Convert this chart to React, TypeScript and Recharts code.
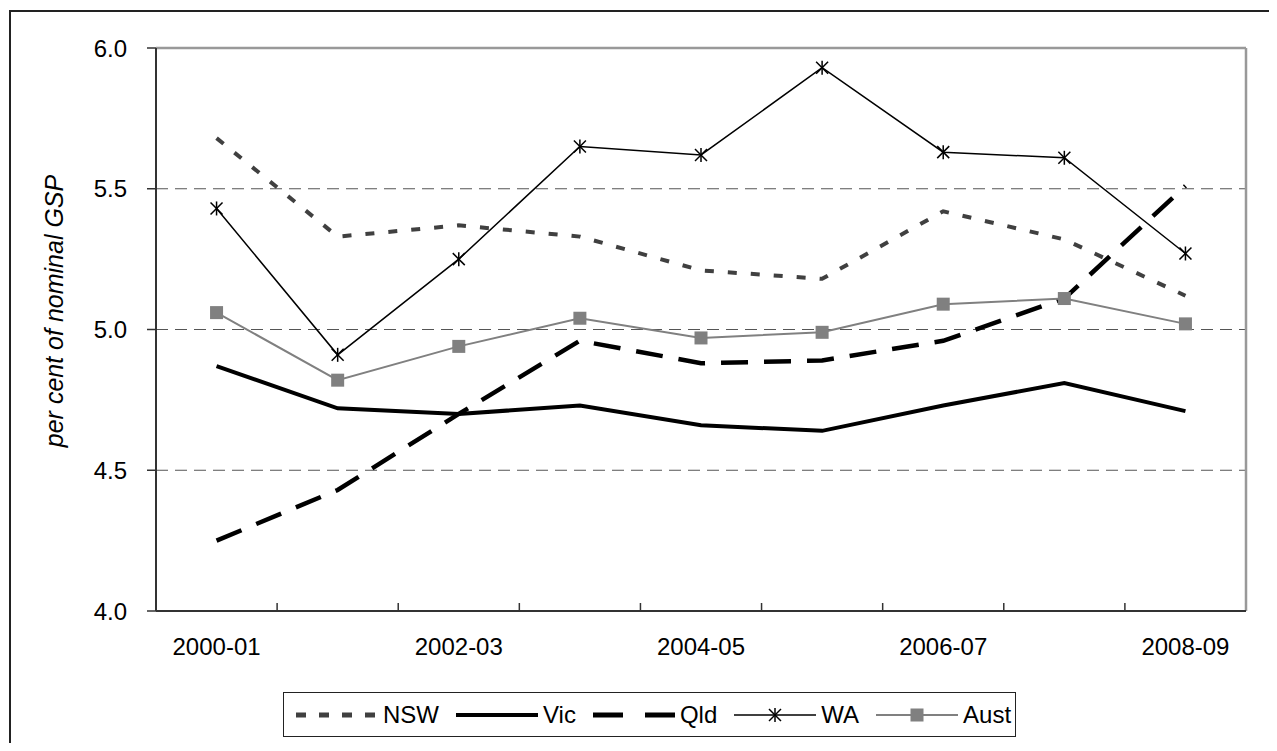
import { CartesianGrid, Line, LineChart, ReferenceLine, XAxis, YAxis } from "recharts";

const years = ["2000-01", "2001-02", "2002-03", "2003-04", "2004-05", "2005-06", "2006-07", "2007-08", "2008-09"];
const nsw = [5.68, 5.33, 5.37, 5.33, 5.21, 5.18, 5.42, 5.32, 5.12];
const vic = [4.87, 4.72, 4.7, 4.73, 4.66, 4.64, 4.73, 4.81, 4.71];
const qld = [4.25, 4.43, 4.7, 4.96, 4.88, 4.89, 4.96, 5.11, 5.51];
const wa = [5.43, 4.91, 5.25, 5.65, 5.62, 5.93, 5.63, 5.61, 5.27];
const aust = [5.06, 4.82, 4.94, 5.04, 4.97, 4.99, 5.09, 5.11, 5.02];
const yTicks = [4, 4.5, 5, 5.5, 6];
const gridValues = [4.5, 5, 5.5];
// label ticks sit on the categories, small tick marks sit between them
const xTicks = [0, 0.5, 1.5, 2, 2.5, 3.5, 4, 4.5, 5.5, 6, 6.5, 7.5, 8];

const data = years.map((year, i) => ({
  x: i,
  year,
  nsw: nsw[i],
  vic: vic[i],
  qld: qld[i],
  wa: wa[i],
  aust: aust[i],
}));

const FONT = "'Liberation Sans', Arial, sans-serif";

const XTick = ({ x, y, payload }: any) => {
  const v = payload.value as number;
  if (v % 1 !== 0) {
    return <line x1={x} y1={y} x2={x} y2={y - 8} stroke="#333" strokeWidth={1.5} />;
  }
  return (
    <text x={x} y={y + 44} textAnchor="middle" fontSize={24} fontFamily={FONT} fill="#000">
      {years[v]}
    </text>
  );
};

const Star = ({ cx, cy }: any) => {
  if (cx == null || cy == null) return null;
  return (
    <g stroke="#000" strokeWidth={1.5}>
      <line x1={cx} y1={cy - 7} x2={cx} y2={cy + 7} />
      <line x1={cx - 6} y1={cy - 6} x2={cx + 6} y2={cy + 6} />
      <line x1={cx - 6} y1={cy + 6} x2={cx + 6} y2={cy - 6} />
    </g>
  );
};

const Square = ({ cx, cy }: any) => {
  if (cx == null || cy == null) return null;
  return <rect x={cx - 6.5} y={cy - 6.5} width={13} height={13} fill="#808080" />;
};

const YLabel = ({ viewBox }: any) => {
  const x = viewBox.x + 55;
  const y = 303;
  return (
    <text
      x={x}
      y={y}
      transform={`rotate(-90 ${x} ${y})`}
      textAnchor="middle"
      fontSize={25}
      fontStyle="italic"
      fontFamily={FONT}
      fill="#000"
    >
      per cent of nominal GSP
    </text>
  );
};

const legendItems = [
  { name: "NSW", stroke: "#404040", width: 5, dash: "10 13", marker: null },
  { name: "Vic", stroke: "#000", width: 4, dash: undefined, marker: null },
  { name: "Qld", stroke: "#000", width: 5, dash: "30 22", marker: null },
  { name: "WA", stroke: "#000", width: 1.5, dash: undefined, marker: "star" },
  { name: "Aust", stroke: "#808080", width: 2, dash: undefined, marker: "square" },
];

function ChartLegend() {
  return (
    <div
      style={{
        position: "absolute",
        left: 275,
        top: 684,
        width: 733,
        height: 45,
        border: "1.5px solid #222",
        display: "flex",
        alignItems: "center",
        paddingLeft: 12,
        gap: 17,
        fontFamily: FONT,
        fontSize: 24,
        background: "#fff",
        boxSizing: "border-box",
      }}
    >
      {legendItems.map((it) => (
        <div key={it.name} style={{ display: "flex", alignItems: "center", gap: 5 }}>
          <svg width={82} height={20}>
            <line x1={0} y1={10} x2={82} y2={10} stroke={it.stroke} strokeWidth={it.width} strokeDasharray={it.dash} />
            {it.marker === "star" && <Star cx={41} cy={10} />}
            {it.marker === "square" && <Square cx={41} cy={10} />}
          </svg>
          <span style={{ lineHeight: "24px" }}>{it.name}</span>
        </div>
      ))}
    </div>
  );
}

export default function App() {
  return (
    <div style={{ position: "relative", width: 1261, height: 735, overflow: "hidden", background: "#fff" }}>
      <div
        style={{
          position: "absolute",
          left: 1,
          top: 2,
          width: 1260,
          height: 733,
          borderLeft: "2px solid #222",
          borderTop: "2px solid #222",
        }}
      />
      <LineChart
        width={1261}
        height={735}
        data={data}
        margin={{ top: 40, right: 23, left: 0, bottom: 102 }}
        style={{ position: "absolute", left: 0, top: 0 }}
      >
        <CartesianGrid horizontal={false} vertical={false} />
        {gridValues.map((v) => (
          <ReferenceLine key={v} y={v} stroke="#555" strokeWidth={1} strokeDasharray="12 7" />
        ))}
        <ReferenceLine y={6} stroke="#999" strokeWidth={2.5} />
        <ReferenceLine x={8.5} stroke="#999" strokeWidth={2.5} />
        <XAxis
          dataKey="x"
          type="number"
          domain={[-0.5, 8.5]}
          ticks={xTicks}
          interval={0}
          height={30}
          tickSize={0}
          tickMargin={0}
          tickLine={false}
          tick={<XTick />}
          axisLine={{ stroke: "#333", strokeWidth: 2 }}
        />
        <YAxis
          domain={[4, 6]}
          ticks={yTicks}
          width={148}
          interval={0}
          tickSize={9}
          tickMargin={20}
          tickLine={{ stroke: "#333", strokeWidth: 1.5 }}
          axisLine={{ stroke: "#333", strokeWidth: 2 }}
          tick={{ fill: "#000", fontSize: 24, fontFamily: FONT }}
          tickFormatter={(v: number) => v.toFixed(1)}
          label={<YLabel />}
        />
        <Line
          type="linear"
          dataKey="nsw"
          name="NSW"
          stroke="#404040"
          strokeWidth={4}
          strokeDasharray="9 14"
          dot={false}
          isAnimationActive={false}
        />
        <Line type="linear" dataKey="vic" name="Vic" stroke="#000" strokeWidth={4} dot={false} isAnimationActive={false} />
        <Line
          type="linear"
          dataKey="qld"
          name="Qld"
          stroke="#000"
          strokeWidth={4.5}
          strokeDasharray="27 16"
          dot={false}
          isAnimationActive={false}
        />
        <Line
          type="linear"
          dataKey="aust"
          name="Aust"
          stroke="#808080"
          strokeWidth={2}
          dot={<Square />}
          isAnimationActive={false}
        />
        <Line
          type="linear"
          dataKey="wa"
          name="WA"
          stroke="#000"
          strokeWidth={1.5}
          dot={<Star />}
          isAnimationActive={false}
        />
      </LineChart>
      <ChartLegend />
    </div>
  );
}
